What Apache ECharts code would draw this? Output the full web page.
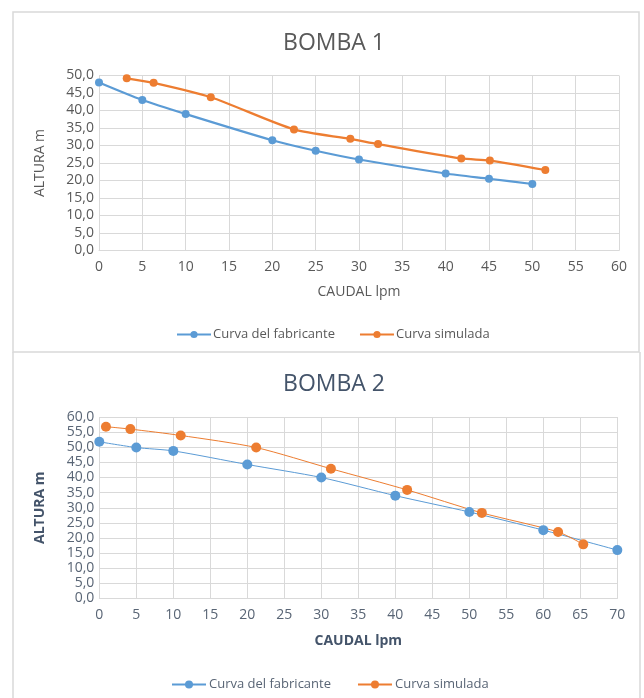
<!DOCTYPE html>
<html>
<head>
<meta charset="utf-8">
<script src="https://cdn.jsdelivr.net/npm/echarts@6/dist/echarts.min.js"></script>
<style>
  html, body { margin: 0; padding: 0; background: #fff; }
  #chart { width: 644px; height: 698px; }
</style>
</head>
<body>
<div id="chart"></div>
<script>
// Pump curves: manufacturer vs simulated head (m) against flow (lpm)
const bomba1Fabricante = [[0, 48], [5, 43], [10, 39], [20, 31.5], [25, 28.5], [30, 26], [40, 22], [45, 20.5], [50, 19]];
const bomba1Simulada = [[3.2, 49.2], [6.3, 47.9], [12.9, 43.8], [22.5, 34.6], [29, 31.9], [32.2, 30.4], [41.8, 26.3], [45.1, 25.7], [51.5, 23.0]];

const bomba2Fabricante = [[0, 51.8], [5, 49.9], [10, 48.8], [20, 44.3], [30, 40], [40, 34], [50, 28.6], [60, 22.6], [70, 16]];
const bomba2Simulada = [[0.9, 56.8], [4.2, 56], [11, 53.9], [21.2, 49.9], [31.3, 42.9], [41.6, 35.9], [51.7, 28.3], [62, 22], [65.4, 17.9]];

const titles = ['BOMBA 1', 'BOMBA 2'];
const seriesNames = ['Curva del fabricante', 'Curva simulada'];
const xAxisName = 'CAUDAL lpm';
const yAxisName = 'ALTURA m';
const xMax = [60, 70];
const yMax = [50, 60];

const BLUE = '#5B9BD5';
const ORANGE = '#ED7D31';
const GRID = '#D9D9D9';
const FONT = '"Open Sans", "Noto Sans", sans-serif';

const comma = v => v.toFixed(1).replace('.', ',');
// second chart's series carry an invisible suffix so each legend lists its own pair
const ZW = '\u200b';

const chart = echarts.init(document.getElementById('chart'), null, { renderer: 'canvas' });

function xAxis(i, nameStyle, labelColor) {
  return {
    type: 'value', gridIndex: i, min: 0, max: xMax[i], interval: 5,
    name: xAxisName, nameLocation: 'middle', nameGap: i === 0 ? 35 : 36,
    nameTextStyle: nameStyle,
    axisLine: { lineStyle: { color: GRID } },
    axisTick: { show: false },
    axisLabel: { color: labelColor, fontFamily: FONT, fontSize: 14, margin: 10 },
    splitLine: { show: true, lineStyle: { color: GRID, width: 1 } }
  };
}
function yAxis(i, nameStyle, labelColor) {
  return {
    type: 'value', gridIndex: i, min: 0, max: yMax[i], interval: 5,
    name: yAxisName, nameLocation: 'middle', nameGap: 52, nameRotate: 90,
    nameTextStyle: nameStyle,
    axisLine: { show: false },
    axisTick: { show: false },
    axisLabel: { color: labelColor, fontFamily: FONT, fontSize: 14, margin: 5, formatter: comma },
    splitLine: { lineStyle: { color: GRID, width: 1 } }
  };
}

const name1 = { color: '#595959', fontFamily: FONT, fontSize: 14 };
const name2 = { color: '#44546A', fontFamily: FONT, fontSize: 14, fontWeight: 'bold' };

const option = {
  backgroundColor: '#fff',
  animation: false,
  title: [
    { text: titles[0], left: 329, top: 27, textAlign: 'center',
      textStyle: { color: '#595959', fontFamily: FONT, fontSize: 23, fontWeight: 'normal' } },
    { text: titles[1], left: 329, top: 368, textAlign: 'center',
      textStyle: { color: '#44546A', fontFamily: FONT, fontSize: 23, fontWeight: 'normal' } }
  ],
  legend: [
    { data: [seriesNames[0], seriesNames[1]],
      left: 171, top: 323, itemWidth: 34, itemHeight: 9, itemGap: 24,
      textStyle: { color: '#595959', fontFamily: FONT, fontSize: 13, padding: [0, 0, 0, -3] } },
    { data: [seriesNames[0] + ZW, seriesNames[1] + ZW],
      left: 166, top: 673, itemWidth: 34, itemHeight: 10, itemGap: 26,
      textStyle: { color: '#596575', fontFamily: FONT, fontSize: 13, padding: [0, 0, 0, -2] } }
  ],
  grid: [
    { left: 99, top: 75.5, width: 520, height: 175 },
    { left: 99.3, top: 417, width: 518, height: 181.5 }
  ],
  xAxis: [xAxis(0, name1, '#595959'), xAxis(1, name2, '#596575')],
  yAxis: [yAxis(0, name1, '#595959'), yAxis(1, name2, '#596575')],
  series: [
    { name: seriesNames[0], type: 'line', xAxisIndex: 0, yAxisIndex: 0, data: bomba1Fabricante,
      smooth: 0.25, symbol: 'circle', symbolSize: 8,
      lineStyle: { color: BLUE, width: 2.25 }, itemStyle: { color: BLUE } },
    { name: seriesNames[1], type: 'line', xAxisIndex: 0, yAxisIndex: 0, data: bomba1Simulada,
      smooth: 0.25, symbol: 'circle', symbolSize: 8,
      lineStyle: { color: ORANGE, width: 2.25 }, itemStyle: { color: ORANGE } },
    { name: seriesNames[0] + ZW, type: 'line', xAxisIndex: 1, yAxisIndex: 1, data: bomba2Fabricante,
      smooth: 0.25, symbol: 'circle', symbolSize: 10,
      lineStyle: { color: BLUE, width: 1 }, itemStyle: { color: BLUE } },
    { name: seriesNames[1] + ZW, type: 'line', xAxisIndex: 1, yAxisIndex: 1, data: bomba2Simulada,
      smooth: 0.25, symbol: 'circle', symbolSize: 10,
      lineStyle: { color: ORANGE, width: 1 }, itemStyle: { color: ORANGE } }
  ],
  graphic: [
    // frame around the first chart
    { type: 'rect', silent: true, z: -1,
      shape: { x: 13, y: 12, width: 626, height: 340 },
      style: { fill: null, stroke: GRID, lineWidth: 1.5 } },
    // side edges of the second chart
    { type: 'line', silent: true, z: -1,
      shape: { x1: 13, y1: 352, x2: 13, y2: 698 },
      style: { stroke: GRID, lineWidth: 1.5 } },
    { type: 'line', silent: true, z: -1,
      shape: { x1: 640, y1: 352, x2: 640, y2: 698 },
      style: { stroke: GRID, lineWidth: 1.5 } }
  ]
};

chart.setOption(option);
</script>
</body>
</html>
